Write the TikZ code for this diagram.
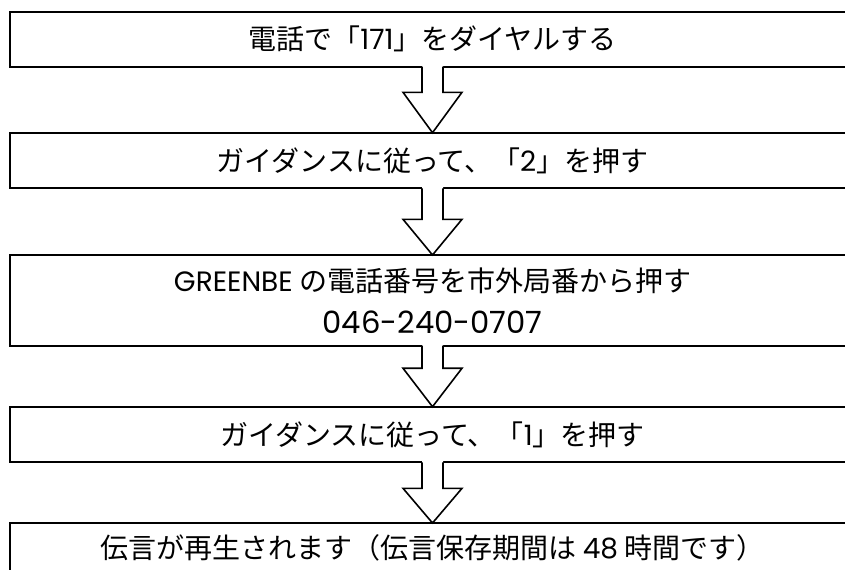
\documentclass[tikz,border=0pt]{standalone}
\usepackage{fontspec}
\setmainfont{Noto Sans CJK JP}
\newfontfamily\lat{Poppins}
\usetikzlibrary{calc}
\tikzset{
  box/.style={draw, line width=1.5pt, rectangle, outer sep=0pt, inner sep=0pt,
    minimum width=633.75pt, minimum height=41.5pt, anchor=center,
    font=\fontsize{21}{31.5}\selectfont, align=center},
  arrowline/.style={draw, line width=1.2pt, line join=miter},
}
\newcommand\blkarrow[3]{%
  \fill[white] ($(#1.south)+(-10.5,-2)$) -- ($(#1.south)+(-10.5,#3)$) -- ($(#1.south)+(-29.5,#3)$) -- (#2.north) -- ($(#1.south)+(29.5,#3)$) -- ($(#1.south)+(10.5,#3)$) -- ($(#1.south)+(10.5,-2)$) -- cycle;
  \draw[arrowline] ($(#1.south)+(-10.5,0)$) -- ($(#1.south)+(-10.5,#3)$) -- ($(#1.south)+(-29.5,#3)$) -- (#2.north) -- ($(#1.south)+(29.5,#3)$) -- ($(#1.south)+(10.5,#3)$) -- ($(#1.south)+(10.5,0)$);
}
\begin{document}
\begin{tikzpicture}[x=0.75pt,y=-0.75pt]
\useasboundingbox (0,0) rectangle (845,569);
\clip (0,0) rectangle (845,569);
\fill[white] (0,0) rectangle (845,569);
\node[box, minimum height=41.25pt] (b1) at (432.5,39.2) {電話で「{\lat 171}」をダイヤルする};
\node[box, minimum height=41.7pt] (b2) at (432.5,160.5) {ガイダンスに従って、「{\lat 2}」を押す};
\node[box, minimum height=68pt] (b3) at (432.5,300.3) {{\lat GREENBE} の電話番号を市外局番から押す\\{\lat\fontsize{23}{24}\selectfont 046-240-0707}};
\node[box, minimum height=41.7pt] (b4) at (432.5,434.5) {ガイダンスに従って、「{\lat 1}」を押す};
\node[box, minimum height=37.5pt] (b5) at (432.5,548) {伝言が再生されます（伝言保存期間は {\lat 48} 時間です）};
\blkarrow{b1}{b2}{25.6}
\blkarrow{b2}{b3}{31}
\blkarrow{b3}{b4}{22.6}
\blkarrow{b4}{b5}{26}
\end{tikzpicture}
\end{document}
